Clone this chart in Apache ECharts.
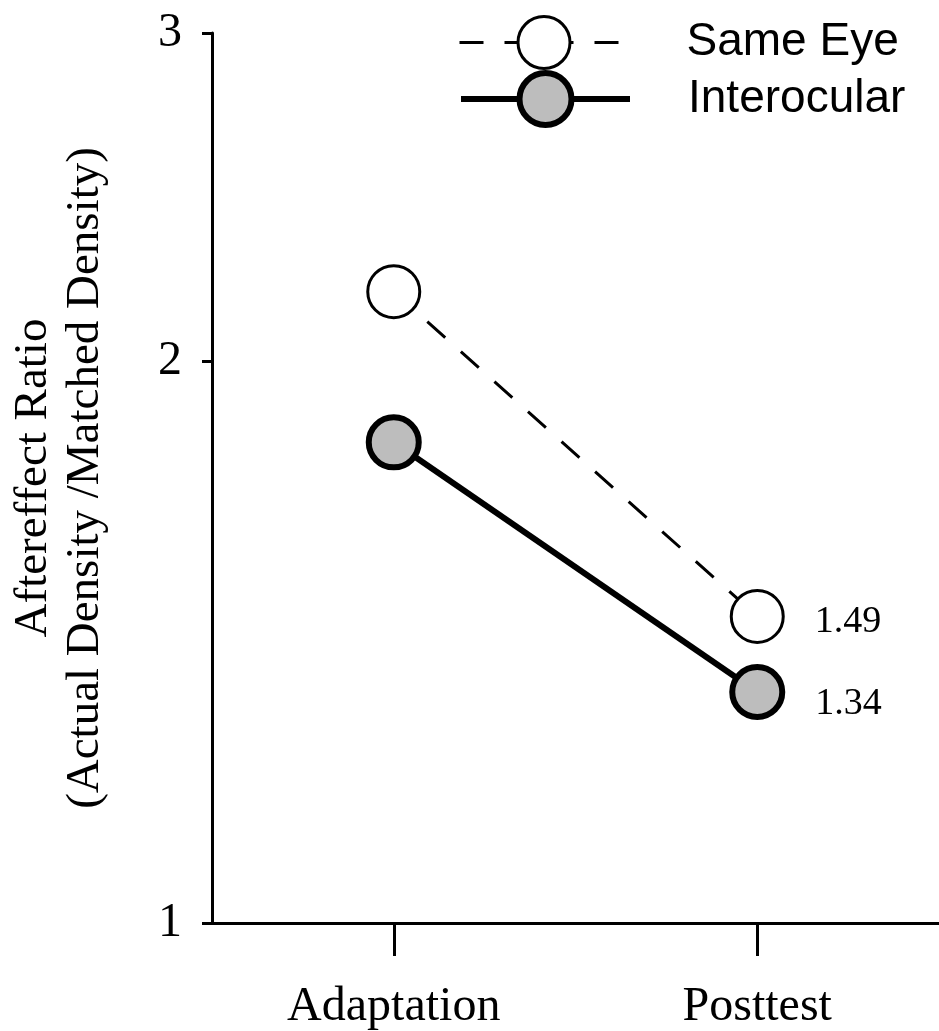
<!DOCTYPE html>
<html>
<head>
<meta charset="utf-8">
<script src="https://cdn.jsdelivr.net/npm/echarts@6/dist/echarts.min.js"></script>
<style>
  html, body { margin: 0; padding: 0; background: #fff; }
  #chart { width: 939px; height: 1031px; }
</style>
</head>
<body>
<div id="chart"></div>
<script>
// values (log y axis)
const phases = ['Adaptation', 'Posttest']
const sameEye = [2.18, 1.46]
const interocular = [1.81, 1.33]
const posttestLabels = ['1.49', '1.34']
const yTicks = [1, 2, 3]

const SERIF = '"Liberation Serif", "Times New Roman", serif'
const SANS = '"Liberation Sans", Arial, sans-serif'

// only the Posttest point carries its printed value
const withLabel = (values, text, dy) => values.map((v, i) => (
  i === values.length - 1
    ? { value: v, label: { show: true, position: 'right', distance: 30, offset: [0, dy], formatter: text,
        fontFamily: SERIF, fontSize: 38, color: '#000' } }
    : v
))

const legendText = { fontFamily: SANS, fontSize: 46, color: '#000', padding: [0, 0, 0, 53] }

const chart = echarts.init(document.getElementById('chart'), null, { renderer: 'canvas' })

chart.setOption({
  animation: false,
  backgroundColor: '#fff',
  grid: { left: 212, right: -3, top: 33, bottom: 108 },
  legend: [
    {
      data: ['Same Eye'], left: 453, top: 10, itemWidth: 169, itemHeight: 65,
      lineStyle: { width: 3 },
      itemStyle: { borderWidth: 3 },
      textStyle: legendText,
    },
    {
      data: ['Interocular'], left: 453, top: 65, itemWidth: 169, itemHeight: 65,
      lineStyle: { width: 6 },
      itemStyle: { borderWidth: 6 },
      textStyle: legendText,
    },
  ],
  xAxis: {
    type: 'category',
    data: phases,
    boundaryGap: true,
    axisLine: { lineStyle: { color: '#000', width: 3 } },
    axisTick: { show: true, interval: 0, alignWithLabel: true, length: 33, lineStyle: { color: '#000', width: 3 } },
    axisLabel: { margin: 60, fontFamily: SERIF, fontSize: 48, color: '#000' },
  },
  yAxis: {
    type: 'log',
    logBase: 10,
    min: 1,
    max: 3,
    name: 'Aftereffect Ratio\n(Actual Density /Matched Density)',
    nameLocation: 'middle',
    nameRotate: 90,
    nameGap: 100,
    nameTextStyle: { fontFamily: SERIF, fontSize: 47, lineHeight: 52, color: '#000' },
    splitLine: { show: false },
    axisLine: { show: true, lineStyle: { color: '#000', width: 3 } },
    axisTick: { show: true, length: 10, customValues: yTicks, lineStyle: { color: '#000', width: 3 } },
    axisLabel: { margin: 30, customValues: yTicks, fontFamily: SERIF, fontSize: 48, color: '#000' },
  },
  series: [
    {
      name: 'Same Eye',
      type: 'line',
      data: withLabel(sameEye, posttestLabels[0], 6),
      symbol: 'circle',
      symbolSize: 52,
      lineStyle: { color: '#000', width: 3, type: [24, 21] },
      itemStyle: { color: '#fff', borderColor: '#000', borderWidth: 3 },
      z: 3,
    },
    {
      name: 'Interocular',
      type: 'line',
      data: withLabel(interocular, posttestLabels[1], 12),
      symbol: 'circle',
      symbolSize: 50,
      lineStyle: { color: '#000', width: 6 },
      itemStyle: { color: '#bdbdbd', borderColor: '#000', borderWidth: 6 },
      z: 4,
    },
  ],
})
</script>
</body>
</html>
